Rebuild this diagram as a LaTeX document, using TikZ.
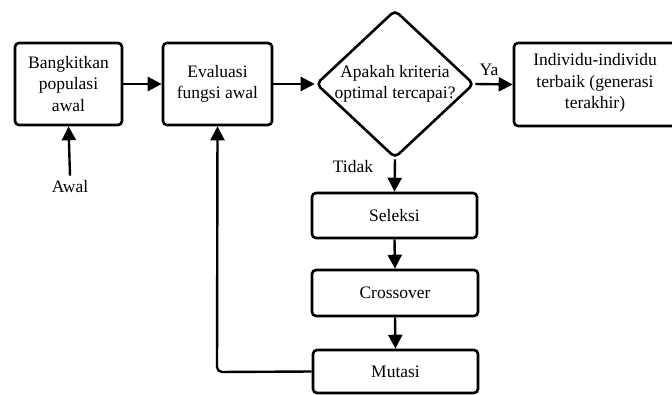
\documentclass[tikz,border=0pt]{standalone}
\usepackage{fontspec}
\setmainfont{Liberation Serif}
\usetikzlibrary{shapes.geometric,arrows.meta}
\begin{document}
\begin{tikzpicture}[x=1pt,y=-1pt,
  font=\fontsize{17.5pt}{21.5pt}\selectfont,
  box/.style={draw, line width=2.6pt, rounded corners=4pt, align=center, inner sep=2pt},
  dec/.style={draw, diamond, line width=2.6pt, rounded corners=5pt, align=center, inner sep=0pt,
    minimum width=158pt, minimum height=148pt},
  arr/.style={line width=2.4pt, -{Triangle[length=14pt,width=14pt]}},
  lbl/.style={inner sep=0pt}]
\useasboundingbox (0,0) rectangle (672,394);
\node[box, minimum width=107pt, minimum height=82pt] (init) at (68.5,84) {Bangkitkan\\populasi\\awal};
\node[box, minimum width=109pt, minimum height=82pt] (eval) at (217.5,84) {Evaluasi\\fungsi awal};
\node[dec] (dec) at (395,84) {};
\node[lbl, align=center] (dectext) at (395,84) {Apakah kriteria\\optimal tercapai?};
\node[box, minimum width=172pt, minimum height=83pt] (best) at (600,84.5) {};
\node[lbl, align=center] (besttext) at (595,83) {Individu-individu\\terbaik (generasi\\terakhir)};
\node[box, minimum width=165pt, minimum height=45pt] (sel) at (394.5,215.5) {Seleksi};
\node[box, minimum width=166pt, minimum height=46pt] (cross) at (395,293) {Crossover};
\node[box, minimum width=165pt, minimum height=43pt] (mut) at (395.5,371.5) {Mutasi};
\node[lbl] (awal) at (70,187) {Awal};
\node[lbl] (ya) at (489,70) {Ya};
\node[lbl] (tidak) at (353,167) {Tidak};
\coordinate (loopc) at (217,372);
\draw[arr] (awal.north) ++(0,-5) -- (init.south);
\draw[arr] (init.east) -- (eval.west);
\draw[arr] (eval.east) -- (dec.west);
\draw[arr] (dec.east) -- (best.west);
\draw[arr] (dec.south) -- (sel.north);
\draw[arr] (sel.south) -- (cross.north);
\draw[arr] (cross.south) -- (mut.north);
\draw[arr, rounded corners=5pt] (mut.west) -- (loopc) -- (eval.south);
\end{tikzpicture}
\end{document}
